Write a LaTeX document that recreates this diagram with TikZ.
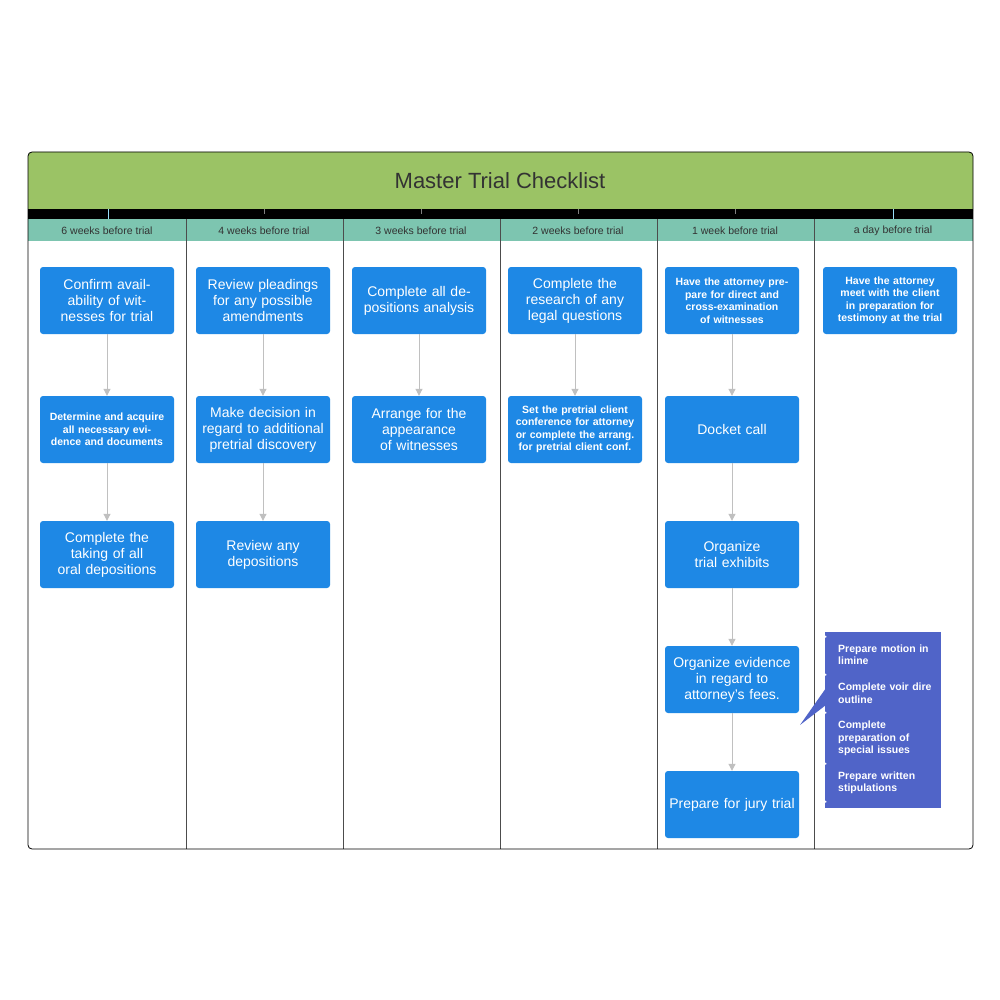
\documentclass[tikz,border=0pt]{standalone}
\usetikzlibrary{arrows.meta}
\usepackage{fontspec}
\setmainfont{Liberation Sans}
\definecolor{grn}{HTML}{9BC365}
\definecolor{teal}{HTML}{7DC5B0}
\definecolor{bx}{HTML}{1E88E5}
\definecolor{cal}{HTML}{5064C8}
\definecolor{arr}{HTML}{C0C0C0}
\begin{document}
\begin{tikzpicture}[x=1pt,y=-1pt,
  task/.style={fill=bx,rounded corners=3pt,minimum width=134pt,minimum height=67pt,text width=126pt,align=center,text=white,font=\fontsize{14}{16}\selectfont,inner sep=2pt},
  small/.style={task,font=\fontsize{10.5}{12.5}\selectfont\bfseries},
  flow/.style={draw=arr,line width=1pt,-{Triangle[width=7pt,length=7pt]}},
  hdr/.style={font=\fontsize{10.5}{12}\selectfont,text=black!80}]
\useasboundingbox (0,0) rectangle (1000,1000);
\fill[white] (0,0) rectangle (1000,1000);
\fill[grn,rounded corners=4pt] (28,152) rectangle (973,215);
\fill[black] (28,209) rectangle (973,219);
\fill[teal] (28,219) rectangle (973,241);
\node[font=\fontsize{22}{24}\selectfont,text=black!80] (title) at (500,181) {Master Trial Checklist};
\foreach \x in {108,893} \draw[cyan!40!white,line width=0.8pt] (\x,209) -- (\x,219);
\foreach \x in {264,421,578,735} \draw[gray,line width=0.6pt] (\x,209) -- (\x,214);
\foreach \x in {186,343,500,657,814} \draw[black!70,line width=0.8pt] (\x,219) -- (\x,849);
\draw[black,line width=0.8pt,rounded corners=4pt] (28,152) rectangle (973,849);
\node[hdr] (h1) at (107,231) {6 weeks before trial};
\node[hdr] (h2) at (264,231) {4 weeks before trial};
\node[hdr] (h3) at (421,231) {3 weeks before trial};
\node[hdr] (h4) at (578,231) {2 weeks before trial};
\node[hdr] (h5) at (735,231) {1 week before trial};
\node[hdr] (h6) at (893,231) {a day before trial};
% column 1
\node[task] (a1) at (107,300.5) {Confirm availability of witnesses for trial};
\node[small] (a2) at (107,429.5) {Determine and acquire all necessary evidence and documents};
\node[task] (a3) at (107,554.5) {Complete the taking of all oral depositions};
% column 2
\node[task] (b1) at (263,300.5) {Review pleadings for any possible amendments};
\node[task] (b2) at (263,429.5) {Make decision in regard to additional pretrial discovery};
\node[task] (b3) at (263,554.5) {Review any depositions};
% column 3
\node[task] (c1) at (419,300.5) {Complete all depositions analysis};
\node[task] (c2) at (419,429.5) {Arrange for the appearance of witnesses};
% column 4
\node[task] (d1) at (575,300.5) {Complete the research of any legal questions};
\node[small] (d2) at (575,429.5) {Set the pretrial client conference for attorney or complete the arrang. for pretrial client conf.};
% column 5
\node[small] (e1) at (732,300.5) {Have the attorney prepare for direct and cross-examination of witnesses};
\node[task] (e2) at (732,429.5) {Docket call};
\node[task] (e3) at (732,554.5) {Organize trial exhibits};
\node[task] (e4) at (732,679.5) {Organize evidence in regard to attorney's fees.};
\node[task] (e5) at (732,804.5) {Prepare for jury trial};
% column 6
\node[small] (f1) at (890,300.5) {Have the attorney meet with the client in preparation for testimony at the trial};
\foreach \p/\q in {a1/a2,a2/a3,b1/b2,b2/b3,c1/c2,d1/d2,e1/e2,e2/e3,e3/e4,e4/e5}
  \draw[flow] (\p) -- (\q);
% callout
\fill[cal] (825,632) rectangle (941,808);
\fill[cal] (826,688) -- (800,725) -- (826,705) -- cycle;
\node[anchor=north west,text=white,font=\fontsize{10.5}{12.7}\selectfont\bfseries,text width=108pt,inner sep=0pt,align=left] (cl) at (830,636)
{\begin{minipage}{108pt}\raggedright
\leftskip=8pt\parindent=0pt
\llap{\fontsize{7}{8}\selectfont\textbullet\ }Prepare motion in limine\par
\llap{\fontsize{7}{8}\selectfont\textbullet\ }Complete voir dire outline\par
\llap{\fontsize{7}{8}\selectfont\textbullet\ }Complete preparation of special issues\par
\llap{\fontsize{7}{8}\selectfont\textbullet\ }Prepare written stipulations\par
\llap{\fontsize{7}{8}\selectfont\textbullet\ }Draft your instructions to be requested\par
\end{minipage}};
\end{tikzpicture}
\end{document}
